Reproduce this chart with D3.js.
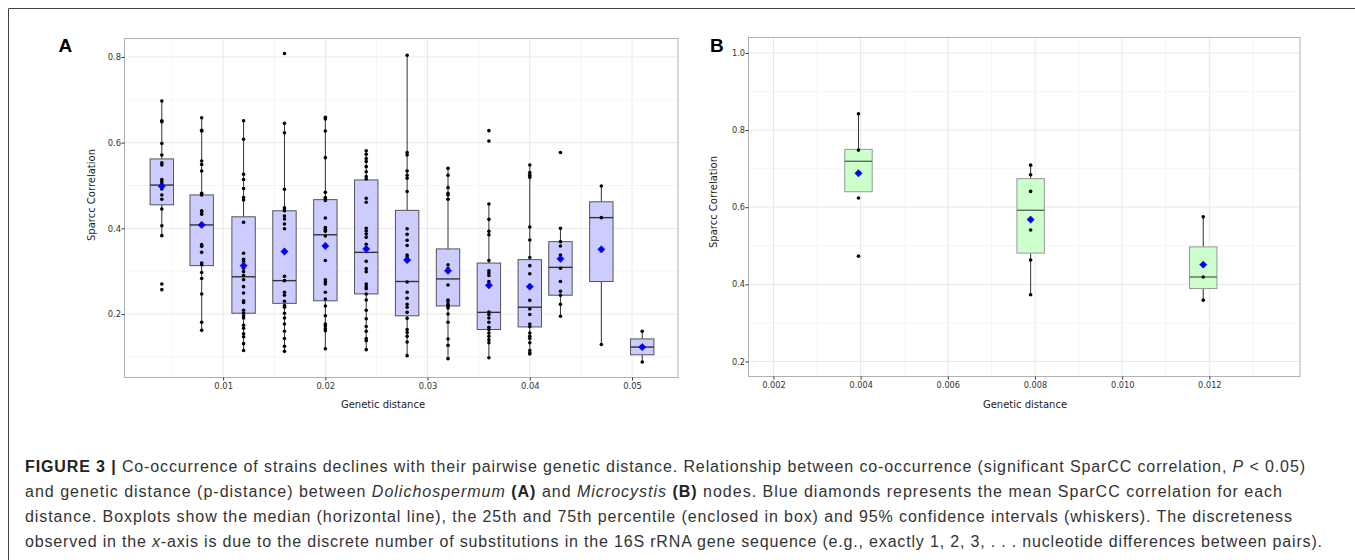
<!DOCTYPE html>
<html>
<head>
<meta charset="utf-8">
<script src="https://cdn.jsdelivr.net/npm/d3@7"></script>
<style>
  body { margin: 0; background: #fff; }
  svg { display: block; }
</style>
</head>
<body>
<svg width="1355" height="560"></svg>
<script>
// ---- panel A : Dolichospermum ----
var distA = [0.0040, 0.0079, 0.0120, 0.0160, 0.0200, 0.0240, 0.0280, 0.0320, 0.0360, 0.0400, 0.0430, 0.0470, 0.0510];
var loA   = [0.383, 0.162, 0.115, 0.113, 0.119, 0.117, 0.103, 0.096, 0.098, 0.107, 0.195, 0.129, 0.088];
var q1A   = [0.455, 0.313, 0.202, 0.225, 0.231, 0.247, 0.196, 0.219, 0.164, 0.170, 0.244, 0.276, 0.105];
var medA  = [0.501, 0.408, 0.287, 0.278, 0.385, 0.344, 0.276, 0.282, 0.204, 0.216, 0.309, 0.425, 0.123];
var q3A   = [0.562, 0.478, 0.427, 0.441, 0.467, 0.513, 0.442, 0.352, 0.319, 0.327, 0.369, 0.462, 0.142];
var hiA   = [0.697, 0.658, 0.651, 0.645, 0.659, 0.581, 0.804, 0.540, 0.457, 0.548, 0.400, 0.499, 0.160];
var meanA = [0.498, 0.408, 0.313, 0.346, 0.359, 0.352, 0.326, 0.301, 0.267, 0.264, 0.329, 0.351, 0.123];
var pointsA = [
  [0.697,0.651,0.649,0.598,0.571,0.553,0.548,0.514,0.509,0.504,0.492,0.478,0.468,0.445,0.406,0.383,0.270,0.257],
  [0.658,0.629,0.627,0.557,0.549,0.534,0.482,0.478,0.441,0.438,0.433,0.410,0.407,0.362,0.358,0.344,0.319,0.315,0.297,0.283,0.247,0.181,0.162],
  [0.651,0.608,0.526,0.514,0.493,0.472,0.466,0.414,0.342,0.328,0.323,0.315,0.307,0.299,0.290,0.280,0.264,0.249,0.231,0.227,0.209,0.202,0.196,0.191,0.174,0.167,0.154,0.147,0.131,0.115],
  [0.808,0.645,0.623,0.491,0.448,0.445,0.441,0.429,0.422,0.410,0.399,0.288,0.278,0.251,0.244,0.230,0.220,0.216,0.202,0.191,0.177,0.160,0.143,0.125,0.113],
  [0.659,0.655,0.627,0.565,0.484,0.472,0.469,0.465,0.424,0.402,0.398,0.393,0.382,0.325,0.280,0.275,0.270,0.251,0.235,0.219,0.196,0.177,0.173,0.166,0.161,0.119],
  [0.581,0.573,0.563,0.556,0.544,0.532,0.521,0.515,0.470,0.461,0.400,0.394,0.387,0.379,0.363,0.351,0.323,0.306,0.299,0.270,0.264,0.259,0.247,0.233,0.209,0.189,0.171,0.160,0.143,0.138,0.117],
  [0.804,0.577,0.571,0.534,0.524,0.517,0.486,0.399,0.386,0.372,0.360,0.338,0.333,0.275,0.251,0.237,0.223,0.216,0.204,0.190,0.164,0.157,0.148,0.135,0.103],
  [0.540,0.524,0.495,0.482,0.478,0.468,0.315,0.307,0.299,0.268,0.233,0.230,0.223,0.218,0.214,0.200,0.181,0.142,0.127,0.096],
  [0.628,0.604,0.457,0.421,0.393,0.385,0.325,0.301,0.296,0.290,0.276,0.267,0.205,0.199,0.191,0.181,0.169,0.164,0.156,0.148,0.140,0.133,0.098],
  [0.548,0.530,0.524,0.519,0.403,0.373,0.332,0.313,0.294,0.266,0.232,0.212,0.199,0.177,0.171,0.156,0.148,0.143,0.133,0.115,0.109,0.107],
  [0.577,0.400,0.369,0.359,0.338,0.328,0.307,0.276,0.253,0.244,0.223,0.195],
  [0.499,0.425,0.129],
  [0.160,0.088]
];
var xTicksA = [0.01, 0.02, 0.03, 0.04, 0.05];
var xMinorA = [0.005, 0.015, 0.025, 0.035, 0.045];
var yTicksA = [0.2, 0.4, 0.6, 0.8];
var yMinorA = [0.1, 0.3, 0.5, 0.7];

// ---- panel B : Microcystis ----
var distB = [0.00395, 0.0079, 0.01186];
var loB   = [0.640, 0.373, 0.359];
var q1B   = [0.640, 0.481, 0.389];
var medB  = [0.719, 0.592, 0.419];
var q3B   = [0.750, 0.674, 0.497];
var hiB   = [0.842, 0.709, 0.575];
var meanB = [0.688, 0.568, 0.451];
var pointsB = [
  [0.842, 0.748, 0.624, 0.473],
  [0.709, 0.684, 0.641, 0.541, 0.463, 0.373],
  [0.575, 0.419, 0.359]
];
var xTicksB = [0.002, 0.004, 0.006, 0.008, 0.010, 0.012];
var xMinorB = [0.003, 0.005, 0.007, 0.009, 0.011, 0.013];
var yTicksB = [0.2, 0.4, 0.6, 0.8, 1.0];
var yMinorB = [0.3, 0.5, 0.7, 0.9];

var svg = d3.select("svg");

svg.append("rect").attr("width", 1355).attr("height", 560).attr("fill", "#fff");

// figure frame (top and left edges)
svg.append("path")
    .attr("d", "M8.5,560 V8.5 H1355")
    .attr("fill", "none")
    .attr("stroke", "#444")
    .attr("stroke-width", 1);

function drawPanel(p) {
  var x = d3.scaleLinear().domain(p.xDomain).range([p.left, p.right]);
  var y = d3.scaleLinear().domain(p.yDomain).range([p.bottom, p.top]);
  var g = svg.append("g");

  // minor grid
  g.selectAll(".vmin").data(p.xMinor).join("line")
      .attr("x1", d => x(d)).attr("x2", d => x(d))
      .attr("y1", p.top).attr("y2", p.bottom)
      .attr("stroke", "#f3f3f3").attr("stroke-width", 0.8);
  g.selectAll(".hmin").data(p.yMinor).join("line")
      .attr("y1", d => y(d)).attr("y2", d => y(d))
      .attr("x1", p.left).attr("x2", p.right)
      .attr("stroke", "#f3f3f3").attr("stroke-width", 0.8);
  // major grid
  g.selectAll(".vmaj").data(p.xTicks).join("line")
      .attr("x1", d => x(d)).attr("x2", d => x(d))
      .attr("y1", p.top).attr("y2", p.bottom)
      .attr("stroke", "#e8e8e8").attr("stroke-width", 1);
  g.selectAll(".hmaj").data(p.yTicks).join("line")
      .attr("y1", d => y(d)).attr("y2", d => y(d))
      .attr("x1", p.left).attr("x2", p.right)
      .attr("stroke", "#e8e8e8").attr("stroke-width", 1);

  var half = p.boxWidth / 2;
  var boxes = g.selectAll(".box").data(p.dist).join("g");

  // whiskers
  boxes.append("line")
      .attr("x1", d => x(d)).attr("x2", d => x(d))
      .attr("y1", (d, i) => y(p.hi[i])).attr("y2", (d, i) => y(p.q3[i]))
      .attr("stroke", "#333").attr("stroke-width", 1);
  boxes.append("line")
      .attr("x1", d => x(d)).attr("x2", d => x(d))
      .attr("y1", (d, i) => y(p.q1[i])).attr("y2", (d, i) => y(p.lo[i]))
      .attr("stroke", "#333").attr("stroke-width", 1);
  // box
  boxes.append("rect")
      .attr("x", d => x(d - half))
      .attr("width", d => x(d + half) - x(d - half))
      .attr("y", (d, i) => y(p.q3[i]))
      .attr("height", (d, i) => y(p.q1[i]) - y(p.q3[i]))
      .attr("fill", p.fill)
      .attr("stroke", p.boxStroke).attr("stroke-width", 1);
  // median
  boxes.append("line")
      .attr("x1", d => x(d - half)).attr("x2", d => x(d + half))
      .attr("y1", (d, i) => y(p.med[i])).attr("y2", (d, i) => y(p.med[i]))
      .attr("stroke", p.medStroke).attr("stroke-width", 1.4);

  // observations
  boxes.each(function(d, i) {
    d3.select(this).selectAll("circle").data(p.points[i]).join("circle")
        .attr("cx", x(d))
        .attr("cy", v => y(v))
        .attr("r", 1.8)
        .attr("fill", "#000");
  });

  // means
  var diamond = d3.symbol().type(d3.symbolDiamond2).size(34);
  boxes.append("path")
      .attr("d", diamond)
      .attr("transform", (d, i) => "translate(" + x(d) + "," + y(p.mean[i]) + ")")
      .attr("fill", "#0000ff")
      .attr("stroke", "#0000cc")
      .attr("stroke-width", 0.5);

  // panel border
  g.append("rect")
      .attr("x", p.left).attr("y", p.top)
      .attr("width", p.right - p.left).attr("height", p.bottom - p.top)
      .attr("fill", "none").attr("stroke", "#b0b0b0").attr("stroke-width", 1);

  // axes
  var ax = g.append("g")
      .attr("transform", "translate(0," + p.bottom + ")")
      .call(d3.axisBottom(x).tickValues(p.xTicks).tickFormat(d3.format(p.xFormat))
            .tickSize(3).tickPadding(2.5).tickSizeOuter(0));
  var ay = g.append("g")
      .attr("transform", "translate(" + p.left + ",0)")
      .call(d3.axisLeft(y).tickValues(p.yTicks).tickFormat(d3.format(".1f"))
            .tickSize(3).tickPadding(0.5).tickSizeOuter(0));
  [ax, ay].forEach(function(a) {
    a.select(".domain").remove();
    a.selectAll(".tick line").attr("stroke", "#333");
    a.selectAll(".tick text")
        .attr("fill", "#333")
        .style("font-family", "'DejaVu Sans', sans-serif")
        .style("font-size", p.tickFont + "px");
  });

  // axis titles
  g.append("text")
      .attr("x", p.xTitleX).attr("y", 408)
      .attr("text-anchor", "middle")
      .attr("fill", "#222")
      .style("font-family", "'DejaVu Sans', sans-serif")
      .style("font-size", "10px")
      .text("Genetic distance");
  g.append("text")
      .attr("transform", "translate(" + p.yTitleX + "," + p.yTitleY + ") rotate(-90)")
      .attr("text-anchor", "middle")
      .attr("dy", "0.35em")
      .attr("fill", "#222")
      .style("font-family", "'DejaVu Sans', sans-serif")
      .style("font-size", "10px")
      .text("Sparcc Correlation");

  // panel letter
  g.append("text")
      .attr("x", p.letterX).attr("y", 52)
      .attr("fill", "#000")
      .style("font-family", "'Liberation Sans', Arial, sans-serif")
      .style("font-weight", "bold")
      .style("font-size", "19px")
      .text(p.letter);
}

drawPanel({
  letter: "A", letterX: 58.5,
  left: 124.5, right: 678, top: 38.5, bottom: 377.5,
  xDomain: [0.00035, 0.0545], yDomain: [0.052, 0.843],
  dist: distA, lo: loA, q1: q1A, med: medA, q3: q3A, hi: hiA, mean: meanA, points: pointsA,
  xTicks: xTicksA, xMinor: xMinorA, yTicks: yTicksA, yMinor: yMinorA,
  xFormat: ".2f", tickFont: 8.4,
  boxWidth: 0.00229, fill: "#ccccff", boxStroke: "#555", medStroke: "#333",
  xTitleX: 383, yTitleX: 91, yTitleY: 195
});

drawPanel({
  letter: "B", letterX: 710,
  left: 748.5, right: 1300, top: 37.5, bottom: 376.5,
  xDomain: [0.001427, 0.01408], yDomain: [0.161, 1.04],
  dist: distB, lo: loB, q1: q1B, med: medB, q3: q3B, hi: hiB, mean: meanB, points: pointsB,
  xTicks: xTicksB, xMinor: xMinorB, yTicks: yTicksB, yMinor: yMinorB,
  xFormat: ".3f", tickFont: 8.2,
  boxWidth: 0.00063, fill: "#ccffcc", boxStroke: "#999", medStroke: "#666",
  xTitleX: 1025, yTitleX: 713, yTitleY: 202
});

// ---- caption ----
var captionLines = [
  [["FIGURE 3 | ", "b"], ["Co-occurrence of strains declines with their pairwise genetic distance. Relationship between co-occurrence (significant SparCC correlation, ", ""], ["P", "i"], [" < 0.05)", ""]],
  [["and genetic distance (p-distance) between ", ""], ["Dolichospermum", "i"], [" (A)", "b"], [" and ", ""], ["Microcystis", "i"], [" (B)", "b"], [" nodes. Blue diamonds represents the mean SparCC correlation for each", ""]],
  [["distance. Boxplots show the median (horizontal line), the 25th and 75th percentile (enclosed in box) and 95% confidence intervals (whiskers). The discreteness", ""]],
  [["observed in the ", ""], ["x", "i"], ["-axis is due to the discrete number of substitutions in the 16S rRNA gene sequence (e.g., exactly 1, 2, 3, . . . nucleotide differences between pairs).", ""]]
];
var captionWidths = [1280, 1257, 1267, 1297];

var cap = svg.append("g")
    .style("font-family", "'Liberation Sans', Arial, sans-serif")
    .style("font-size", "16px")
    .attr("fill", "#333");

captionLines.forEach(function(parts, i) {
  var t = cap.append("text")
      .attr("x", 25)
      .attr("y", 471.5 + i * 25)
      .attr("textLength", captionWidths[i])
      .attr("lengthAdjust", "spacing")
      .attr("xml:space", "preserve");
  parts.forEach(function(p) {
    var s = t.append("tspan").text(p[0]);
    if (p[1] === "b") s.style("font-weight", "bold").attr("fill", "#222");
    if (p[1] === "i") s.style("font-style", "italic");
  });
});
</script>
</body>
</html>
